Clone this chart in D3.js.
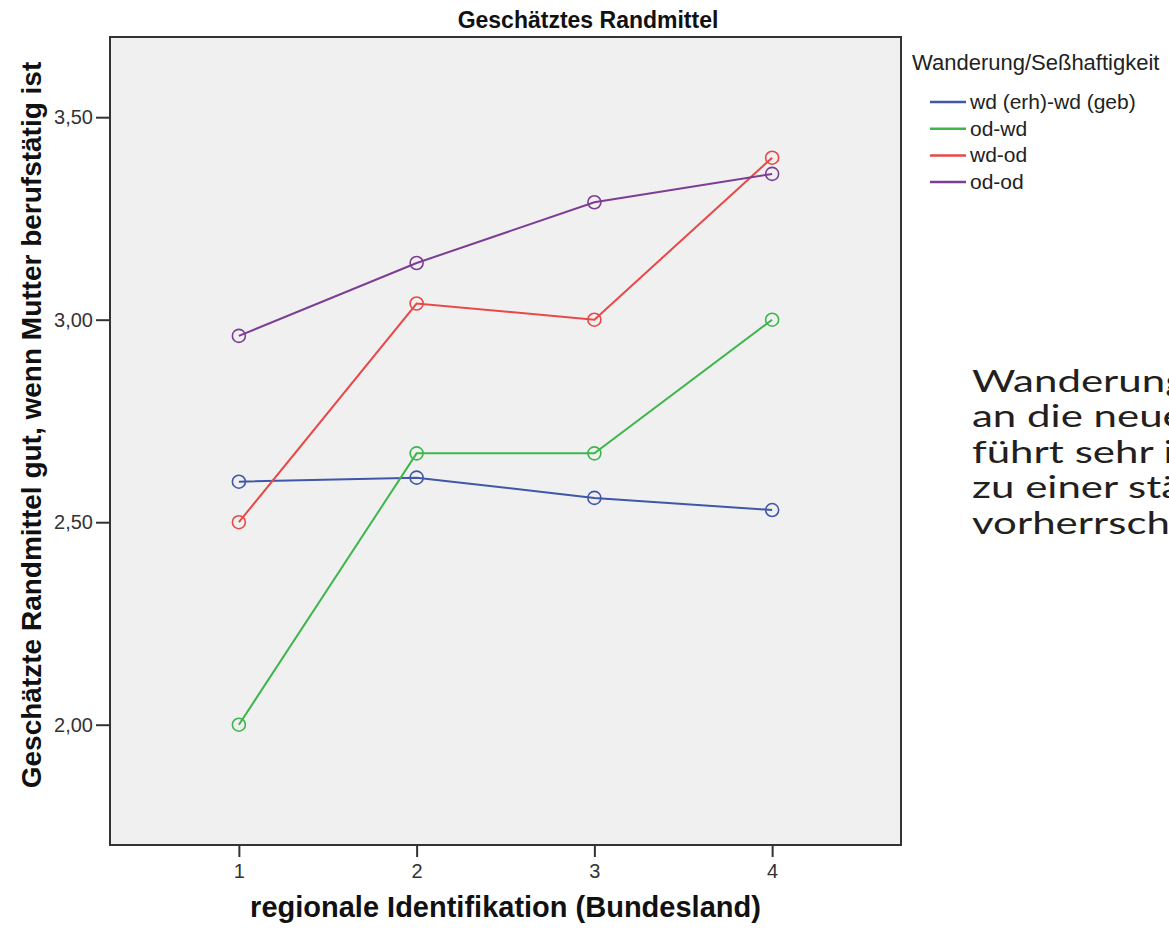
<!DOCTYPE html>
<html>
<head>
<meta charset="utf-8">
<script src="https://cdn.jsdelivr.net/npm/d3@7"></script>
<style>
  body { margin: 0; background: #fff; }
  svg { display: block; }
</style>
</head>
<body>
<div id="chart"></div>
<script>
// data
const levels = [1, 2, 3, 4]
const seriesNames = ["wd (erh)-wd (geb)", "od-wd", "wd-od", "od-od"]
const seriesColors = ["#3f56a9", "#3db64d", "#ea4747", "#7c3d95"]
const wdwd = [2.60, 2.61, 2.56, 2.53]
const odwd = [2.00, 2.67, 2.67, 3.00]
const wdod = [2.50, 3.04, 3.00, 3.40]
const odod = [2.96, 3.14, 3.29, 3.36]
const yTicks = [2.00, 2.50, 3.00, 3.50]
const noteLines = ["Wanderung von West", "an die neue Umgebung", "führt sehr intensiv", "zu einer stärkeren", "vorherrschenden"]

const series = [wdwd, odwd, wdod, odod].map((v, i) => ({name: seriesNames[i], color: seriesColors[i], values: v}))

const width = 1169, height = 937
const margin = {top: 37, right: 268, bottom: 92, left: 110}

const de = d3.formatLocale({decimal: ",", thousands: ".", grouping: [3], currency: ["", "€"]})
const fmt = de.format(".2f")

const x = d3.scaleLinear().domain([0.275, 4.725]).range([margin.left, width - margin.right])
const y = d3.scaleLinear().domain([1.703, 3.698]).range([height - margin.bottom, margin.top])

const svg = d3.select("#chart").append("svg")
    .attr("width", width)
    .attr("height", height)
    .style("font-family", "'Liberation Sans', Arial, sans-serif")

svg.append("rect")
    .attr("x", margin.left).attr("y", margin.top)
    .attr("width", x.range()[1] - margin.left)
    .attr("height", y.range()[0] - margin.top)
    .attr("fill", "#f0f0f0")

// axes
const xAxis = g => g
    .attr("transform", `translate(0,${y.range()[0]})`)
    .call(d3.axisBottom(x).tickValues(levels).tickFormat(d3.format("d")).tickSize(12).tickPadding(7).tickSizeOuter(0))
    .call(g => g.select(".domain").remove())
    .call(g => g.selectAll("line").attr("stroke", "#333").attr("stroke-width", 2))
    .call(g => g.selectAll("text").attr("fill", "#333").style("font-size", "20px"))

const yAxis = g => g
    .attr("transform", `translate(${margin.left},0)`)
    .call(d3.axisLeft(y).tickValues(yTicks).tickFormat(fmt).tickSize(14).tickPadding(3).tickSizeOuter(0))
    .call(g => g.select(".domain").remove())
    .call(g => g.selectAll("line").attr("stroke", "#333").attr("stroke-width", 2))
    .call(g => g.selectAll("text").attr("fill", "#333").style("font-size", "20px"))

svg.append("g").call(xAxis)
svg.append("g").call(yAxis)

// lines + markers
const line = d3.line()
    .x((d, i) => x(levels[i]))
    .y(d => y(d))

const sg = svg.append("g")
    .selectAll("g")
    .data(series)
    .join("g")

sg.append("path")
    .attr("d", d => line(d.values))
    .attr("fill", "none")
    .attr("stroke", d => d.color)
    .attr("stroke-width", 2)

sg.selectAll("circle")
    .data(d => d.values.map((v, i) => ({v, i, color: d.color})))
    .join("circle")
    .attr("cx", d => x(levels[d.i]))
    .attr("cy", d => y(d.v))
    .attr("r", 6.5)
    .attr("fill", "none")
    .attr("stroke", d => d.color)
    .attr("stroke-width", 1.6)

// frame
svg.append("rect")
    .attr("x", margin.left).attr("y", margin.top)
    .attr("width", x.range()[1] - margin.left)
    .attr("height", y.range()[0] - margin.top)
    .attr("fill", "none")
    .attr("stroke", "#333")
    .attr("stroke-width", 2)

// titles
svg.append("text")
    .attr("x", 588).attr("y", 28)
    .attr("text-anchor", "middle")
    .style("font-size", "23px").style("font-weight", "bold")
    .attr("fill", "#111")
    .text("Geschätztes Randmittel")

svg.append("text")
    .attr("x", (margin.left + x.range()[1]) / 2).attr("y", 917)
    .attr("text-anchor", "middle")
    .style("font-size", "29px").style("font-weight", "bold")
    .attr("fill", "#111")
    .text("regionale Identifikation (Bundesland)")

svg.append("text")
    .attr("transform", `translate(41,425) rotate(-90)`)
    .attr("text-anchor", "middle")
    .style("font-size", "28px").style("font-weight", "bold")
    .attr("fill", "#111")
    .text("Geschätzte Randmittel gut, wenn Mutter berufstätig ist")

// legend
const legend = svg.append("g")
legend.append("text")
    .attr("x", 912).attr("y", 70)
    .style("font-size", "22px")
    .attr("fill", "#222")
    .text("Wanderung/Seßhaftigkeit")

const item = legend.selectAll("g")
    .data(series)
    .join("g")
    .attr("transform", (d, i) => `translate(0,${102 + i * 26.7})`)
item.append("line")
    .attr("x1", 930).attr("x2", 966)
    .attr("stroke", d => d.color)
    .attr("stroke-width", 2.5)
item.append("text")
    .attr("x", 970).attr("y", 7)
    .style("font-size", "21px")
    .attr("fill", "#222")
    .text(d => d.name)

// note on the right, runs off the page like in the original
svg.append("g")
    .attr("transform", "translate(972,0) scale(1.4,1)")
    .selectAll("text")
    .data(noteLines)
    .join("text")
    .attr("x", 0)
    .attr("y", (d, i) => 392 + i * 35.5)
    .style("font-family", "Lato, sans-serif")
    .style("font-size", "30px")
    .attr("fill", "#231f20")
    .text(d => d)
</script>
</body>
</html>
